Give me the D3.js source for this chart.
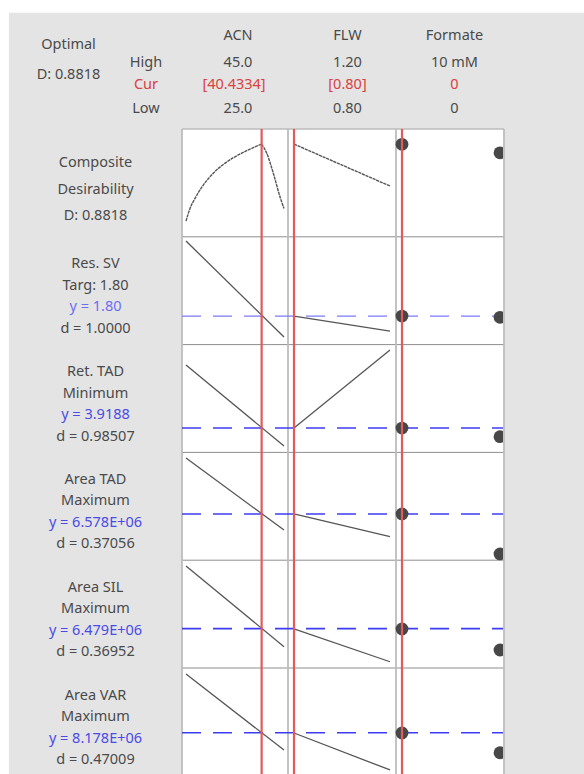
<!DOCTYPE html>
<html>
<head>
<meta charset="utf-8">
<script src="https://cdn.jsdelivr.net/npm/d3@7.9.0/dist/d3.min.js"></script>
<style>
  body { margin: 0; background: #fff; }
  svg text { font-family: "Noto Sans", "Open Sans", sans-serif; font-size: 14.5px; fill: #4a4a4a; }
</style>
</head>
<body>
<svg id="chart" width="584" height="774"></svg>
<script>
// Factors (columns)
const factors = ["ACN", "FLW", "Formate"];
const highLabels = ["45.0", "1.20", "10 mM"];
const curLabels = ["[40.4334]", "[0.80]", "0"];
const lowLabels = ["25.0", "0.80", "0"];
const acnDomain = [25, 45];
const flwDomain = [0.8, 1.2];
const formateDomain = [0, 10];
const current = [40.4334, 0.80, 0];

// Composite desirability row (levels are 0 = bottom .. 1 = top of the panel)
const compositeLabel = ["Composite", "Desirability", "D: 0.8818"];
const compositeAcnRise = [[25, 0.145], [25.82, 0.263], [26.84, 0.356], [28.53, 0.48], [30.57, 0.59],
  [32.96, 0.683], [35.35, 0.751], [38.06, 0.813], [40.4334, 0.86]];
const compositeAcnFall = [[40.4334, 0.86], [41.47, 0.776], [42.82, 0.59], [44.18, 0.371], [45, 0.262]];
const compositeFlw = [[0.8, 0.86], [1.2, 0.471]];
const compositeFormate = [0.858, 0.779];

// Response rows
const responseNames = ["Res. SV", "Ret. TAD", "Area TAD", "Area SIL", "Area VAR"];
const responseGoals = ["Targ: 1.80", "Minimum", "Maximum", "Maximum", "Maximum"];
const predictedLabels = ["y = 1.80", "y = 3.9188", "y = 6.578E+06", "y = 6.479E+06", "y = 8.178E+06"];
const dLabels = ["d = 1.0000", "d = 0.98507", "d = 0.37056", "d = 0.36952", "d = 0.47009"];
const predictedLevels = [0.265, 0.226, 0.429, 0.365, 0.4];
// level at ACN low / high, FLW low / high, Formate 0 / 10
const acnLevels = [[0.961, 0.07], [0.811, 0.059], [0.948, 0.28], [0.946, 0.198], [0.944, 0.239]];
const flwLevels = [[0.265, 0.126], [0.226, 0.95], [0.429, 0.218], [0.362, 0.058], [0.397, 0.054]];
const formateLevels = [[0.265, 0.253], [0.226, 0.146], [0.429, 0.058], [0.362, 0.167], [0.397, 0.214]];

// Layout
const svg = d3.select("#chart");
const panelLeft = 182, panelRight = 504, panelTop = 129, rowH = 107.8;
const colEdges = [182, 288, 396, 504];
const nRows = 6;
const labelX = 95.5;

const xAcn = d3.scaleLinear().domain(acnDomain).range([186, 284]);
const xFlw = d3.scaleLinear().domain(flwDomain).range([294, 390]);
const xFormate = d3.scaleLinear().domain(formateDomain).range([402, 500]);
const xScales = [xAcn, xFlw, xFormate];

function rowY(i) {
  return d3.scaleLinear().domain([0, 1]).range([panelTop + (i + 1) * rowH, panelTop + i * rowH]);
}

// backgrounds
svg.append("rect").attr("x", 9).attr("y", 12.7).attr("width", 584).attr("height", 774).attr("fill", "#e4e4e4");
svg.append("rect").attr("x", panelLeft).attr("y", panelTop)
  .attr("width", panelRight - panelLeft).attr("height", 774 - panelTop + 10).attr("fill", "#fff");

// header text
const header = svg.append("g");
header.append("text").attr("x", 68.5).attr("y", 43).attr("text-anchor", "middle").attr("dominant-baseline", "central").text("Optimal");
header.append("text").attr("x", 68.5).attr("y", 72.7).attr("text-anchor", "middle").attr("dominant-baseline", "central").text("D: 0.8818");
[["High", 61, "#4a4a4a"], ["Cur", 82.7, "#d9403f"], ["Low", 106.7, "#4a4a4a"]].forEach(([t, y, c]) => {
  header.append("text").attr("x", 146).attr("y", y).attr("text-anchor", "middle")
    .attr("dominant-baseline", "central").style("fill", c).text(t);
});
const headerX = [238, 347.5, 454.5];
factors.forEach((f, j) => {
  header.append("text").attr("x", headerX[j]).attr("y", 34.3).attr("text-anchor", "middle").attr("dominant-baseline", "central").text(f);
  header.append("text").attr("x", headerX[j]).attr("y", 61).attr("text-anchor", "middle").attr("dominant-baseline", "central").text(highLabels[j]);
  header.append("text").attr("x", headerX[j] - (j === 0 ? 4 : 0)).attr("y", 82.7).attr("text-anchor", "middle").attr("dominant-baseline", "central")
    .style("fill", "#d9403f").text(curLabels[j]);
  header.append("text").attr("x", headerX[j]).attr("y", 106.7).attr("text-anchor", "middle").attr("dominant-baseline", "central").text(lowLabels[j]);
});

// grid
const grid = svg.append("g");
d3.range(1, nRows).forEach(i => {
  grid.append("line").attr("x1", panelLeft).attr("x2", panelRight)
    .attr("y1", panelTop + i * rowH).attr("y2", panelTop + i * rowH)
    .attr("stroke", "#8e8e8e").attr("stroke-width", 1);
});
colEdges.forEach(x => {
  grid.append("line").attr("x1", x).attr("x2", x).attr("y1", panelTop).attr("y2", 780)
    .attr("stroke", "#bdbdbd").attr("stroke-width", 1.8);
});
grid.append("line").attr("x1", panelLeft).attr("x2", panelRight).attr("y1", panelTop).attr("y2", panelTop)
  .attr("stroke", "#bdbdbd").attr("stroke-width", 1.5);

svg.append("clipPath").attr("id", "panelClip").append("rect")
  .attr("x", panelLeft).attr("y", panelTop).attr("width", panelRight - panelLeft - 1).attr("height", 700);
const plot = svg.append("g").attr("clip-path", "url(#panelClip)");

const lineColor = "#555";
const dotColor = "#474747";

// composite row
const y0 = rowY(0);
const acnLine = d3.line().x(d => xAcn(d[0])).y(d => y0(d[1])).curve(d3.curveMonotoneX);
[compositeAcnRise, compositeAcnFall].forEach(seg => {
  plot.append("path").attr("d", acnLine(seg)).attr("fill", "none")
    .attr("stroke", lineColor).attr("stroke-width", 1.4).attr("stroke-dasharray", "3.2,0.7");
});
plot.append("path")
  .attr("d", d3.line().x(d => xFlw(d[0])).y(d => y0(d[1]))(compositeFlw))
  .attr("fill", "none").attr("stroke", lineColor).attr("stroke-width", 1.4).attr("stroke-dasharray", "3.2,0.7");

// response rows
responseNames.forEach((name, k) => {
  const i = k + 1;
  const y = rowY(i);
  const blue = k === 0 ? "#7a7aff" : "#3c3cf2";
  plot.append("line").attr("x1", panelLeft).attr("x2", panelRight)
    .attr("y1", y(predictedLevels[k])).attr("y2", y(predictedLevels[k]))
    .attr("stroke", blue).attr("stroke-width", k === 0 ? 1.3 : 1.6).attr("stroke-dasharray", "19,12");
  plot.append("line")
    .attr("x1", xAcn(acnDomain[0])).attr("y1", y(acnLevels[k][0]))
    .attr("x2", xAcn(acnDomain[1])).attr("y2", y(acnLevels[k][1]))
    .attr("stroke", lineColor).attr("stroke-width", 1.3);
  plot.append("line")
    .attr("x1", xFlw(flwDomain[0])).attr("y1", y(flwLevels[k][0]))
    .attr("x2", xFlw(flwDomain[1])).attr("y2", y(flwLevels[k][1]))
    .attr("stroke", lineColor).attr("stroke-width", 1.3);
});

// current settings (red lines)
current.forEach((c, j) => {
  svg.append("line").attr("x1", xScales[j](c)).attr("x2", xScales[j](c))
    .attr("y1", panelTop).attr("y2", 780)
    .attr("stroke", "#e25a5a").attr("stroke-width", 2.2);
});

// Formate points
const formatePoints = [compositeFormate].concat(formateLevels);
formatePoints.forEach((lv, i) => {
  const y = rowY(i);
  formateDomain.forEach((v, m) => {
    plot.append("circle").attr("cx", xFormate(v)).attr("cy", y(lv[m])).attr("r", 6.4)
      .attr("fill", dotColor);
  });
});

// left labels
const labels = svg.append("g").attr("text-anchor", "middle");
compositeLabel.forEach((t, m) => {
  labels.append("text").attr("x", labelX).attr("y", panelTop + 32 + m * 26.5)
    .attr("dominant-baseline", "central").text(t);
});
responseNames.forEach((name, k) => {
  const top = panelTop + (k + 1) * rowH;
  const lines = [name, responseGoals[k], predictedLabels[k], dLabels[k]];
  lines.forEach((t, m) => {
    labels.append("text").attr("x", labelX).attr("y", top + 25.5 + m * 21.5)
      .attr("dominant-baseline", "central")
      .style("fill", m === 2 ? (k === 0 ? "#6d6df5" : "#4a4ae8") : "#4a4a4a")
      .text(t);
  });
});
</script>
</body>
</html>
